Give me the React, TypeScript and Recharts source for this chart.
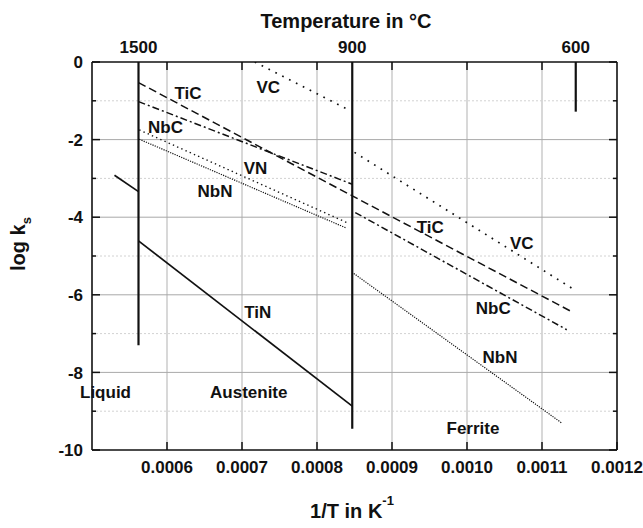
import React from "react";
import { LineChart, Line, XAxis, YAxis, CartesianGrid, ReferenceDot } from "recharts";

const FONT = "'Liberation Sans', Arial, Helvetica, sans-serif";
const INK = "#111";

// axes
const xTicks = [0.0006, 0.0007, 0.0008, 0.0009, 0.001, 0.0011, 0.0012];
const gridX = [0.0006, 0.0007, 0.0008, 0.0009, 0.001, 0.0011];
const yTicks = [0, -1, -2, -3, -4, -5, -6, -7, -8, -9, -10];
const majorY = [-2, -4, -6, -8];
const minorY = [-1, -3, -5, -7, -9];

// temperature markers on the top axis (1/T of 1500, 900, 600 °C)
const tempX = [0.000562, 0.000847, 0.001145];
const tempLabels = ["1500", "900", "600"];
const tempLineLow = [-7.3, -9.45, -1.28];

// solubility lines, log ks vs 1/T
const liquidX = [0.00053, 0.000562];
const liquidY = [-2.92, -3.34];
const tinX = [0.000562, 0.000847];
const tinY = [-4.61, -8.87];
const ticX = [0.000562, 0.000847, 0.001141];
const ticY = [-0.53, -3.45, -6.45];
const nbcAusX = [0.000562, 0.000847];
const nbcAusY = [-1.02, -3.15];
const nbcFerX = [0.000851, 0.001133];
const nbcFerY = [-3.88, -6.9];
const vcAusX = [0.000717, 0.000838];
const vcAusY = [0, -1.19];
const vcFerX = [0.00085, 0.001144];
const vcFerY = [-2.33, -5.88];
const vnX = [0.000563, 0.00084];
const vnY = [-1.75, -4.14];
const nbnAusX = [0.000563, 0.000838];
const nbnAusY = [-1.99, -4.27];
const nbnFerX = [0.000849, 0.001126];
const nbnFerY = [-5.45, -9.3];

// in-plot annotations
const noteText = ["TiC", "VC", "NbC", "VN", "NbN", "TiC", "VC", "NbC", "NbN", "Ferrite", "TiN", "Liquid", "Austenite"];
const noteX = [0.000628, 0.000735, 0.000598, 0.000718, 0.000664, 0.000951, 0.001073, 0.001035, 0.001044, 0.001008, 0.000721, 0.000518, 0.000709];
const noteY = [-0.79, -0.64, -1.68, -2.74, -3.32, -4.24, -4.67, -6.35, -7.6, -9.43, -6.44, -8.5, -8.51];

const pts = (xs: number[], ys: number[]) => xs.map((x, i) => ({ x, y: ys[i] }));

const DASH = "8 4";
const DASHDOT = "7 3 2 3";

const series = [
  { key: "liquid", d: pts(liquidX, liquidY), w: 1.7, dash: undefined },
  { key: "tin", d: pts(tinX, tinY), w: 1.7, dash: undefined },
  { key: "tic", d: pts(ticX, ticY), w: 1.5, dash: DASH },
  { key: "nbcAus", d: pts(nbcAusX, nbcAusY), w: 1.5, dash: DASHDOT },
  { key: "nbcFer", d: pts(nbcFerX, nbcFerY), w: 1.5, dash: DASHDOT },
  { key: "vcAus", d: pts(vcAusX, vcAusY), w: 1.7, dash: "1.7 6" },
  { key: "vcFer", d: pts(vcFerX, vcFerY), w: 1.7, dash: "1.7 6" },
  { key: "vn", d: pts(vnX, vnY), w: 1.4, dash: "1.4 3.2" },
  { key: "nbnAus", d: pts(nbnAusX, nbnAusY), w: 1.2, dash: "1.2 1.2" },
  { key: "nbnFer", d: pts(nbnFerX, nbnFerY), w: 1.2, dash: "1.2 1.2" },
  ...tempX.map((x, i) => ({ key: "T" + tempLabels[i], d: pts([x, x], [0, tempLineLow[i]]), w: 2.2, dash: undefined })),
];

const txt = { fontFamily: FONT, fontWeight: 700, fill: INK } as const;

const BottomTick = (p: any) => {
  const { x, y, payload } = p;
  return (
    <g>
      <line x1={x} x2={x} y1={y} y2={y - 8} stroke={INK} strokeWidth={1.5} />
      <text x={x} y={y + 23} textAnchor="middle" fontSize={17} {...txt}>
        {Number(payload.value).toFixed(4)}
      </text>
    </g>
  );
};

const TopTick = (p: any) => {
  const { x, y, payload } = p;
  const i = tempX.indexOf(payload.value);
  if (i >= 0) {
    return (
      <text x={x} y={y - 9} textAnchor="middle" fontSize={17} {...txt}>
        {tempLabels[i]}
      </text>
    );
  }
  return <line x1={x} x2={x} y1={y} y2={y + 8} stroke={INK} strokeWidth={1.5} />;
};

const LeftTick = (p: any) => {
  const { x, y, payload } = p;
  const v = payload.value as number;
  const major = v % 2 === 0;
  return (
    <g>
      <line x1={x} x2={x + (major ? 8 : 4)} y1={y} y2={y} stroke={INK} strokeWidth={1.5} />
      {major && (
        <text x={x - 9} y={y} dy="0.36em" textAnchor="end" fontSize={17} {...txt}>
          {String(v)}
        </text>
      )}
    </g>
  );
};

const RightTick = (p: any) => {
  const { x, y, payload } = p;
  const major = (payload.value as number) % 2 === 0;
  return <line x1={x} x2={x - (major ? 8 : 4)} y1={y} y2={y} stroke={INK} strokeWidth={1.5} />;
};

const TopTitle = () => (
  <text x={346} y={28} textAnchor="middle" fontSize={20} {...txt}>
    Temperature in °C
  </text>
);

const BottomTitle = () => (
  <text x={352} y={518} textAnchor="middle" fontSize={20} {...txt}>
    1/T in K<tspan dy={-13} fontSize={13}>-1</tspan>
  </text>
);

const LeftTitle = () => (
  <text x={25} y={244} transform="rotate(-90 25 244)" textAnchor="middle" fontSize={20} {...txt}>
    log k<tspan dy={6} fontSize={13}>s</tspan>
  </text>
);

export default function App() {
  return (
    <div style={{ position: "absolute", left: 0, top: 0, width: 643, height: 528, background: "#fff" }}>
      <LineChart width={643} height={528} margin={{ top: 32, right: 25, bottom: 28, left: 30 }}>
        <CartesianGrid xAxisId="b" yAxisId="l" horizontal={false} verticalValues={gridX} stroke="#cbcbcb" strokeWidth={1.5} />
        <CartesianGrid xAxisId="b" yAxisId="l" vertical={false} horizontalValues={majorY} stroke="#a9a9a9" />
        <CartesianGrid xAxisId="b" yAxisId="l" vertical={false} horizontalValues={minorY} stroke="#d2d2d2" strokeDasharray="2 2" />
        <XAxis
          xAxisId="b"
          dataKey="x"
          type="number"
          domain={[0.0005, 0.0012]}
          allowDataOverflow
          ticks={xTicks}
          interval={0}
          height={50}
          tickSize={0}
          tickMargin={0}
          tickLine={false}
          axisLine={{ stroke: INK, strokeWidth: 1.6 }}
          tick={BottomTick}
          label={<BottomTitle />}
        />
        <XAxis
          xAxisId="t"
          orientation="top"
          dataKey="x"
          type="number"
          domain={[0.0005, 0.0012]}
          allowDataOverflow
          ticks={[...gridX, ...tempX]}
          interval={0}
          height={30}
          tickSize={0}
          tickMargin={0}
          tickLine={false}
          axisLine={{ stroke: INK, strokeWidth: 1.6 }}
          tick={TopTick}
          label={<TopTitle />}
        />
        <YAxis
          yAxisId="l"
          type="number"
          domain={[-10, 0]}
          allowDataOverflow
          ticks={yTicks}
          interval={0}
          width={62}
          tickSize={0}
          tickMargin={0}
          tickLine={false}
          axisLine={{ stroke: INK, strokeWidth: 1.6 }}
          tick={LeftTick}
          label={<LeftTitle />}
        />
        <YAxis
          yAxisId="r"
          orientation="right"
          type="number"
          domain={[-10, 0]}
          allowDataOverflow
          ticks={yTicks}
          interval={0}
          width={1}
          tickSize={0}
          tickMargin={0}
          tickLine={false}
          axisLine={{ stroke: INK, strokeWidth: 1.6 }}
          tick={RightTick}
        />
        {series.map((s) => (
          <Line
            key={s.key}
            xAxisId="b"
            yAxisId="l"
            data={s.d}
            dataKey="y"
            type="linear"
            stroke={INK}
            strokeWidth={s.w}
            strokeDasharray={s.dash}
            dot={false}
            activeDot={false}
            isAnimationActive={false}
          />
        ))}
        {noteText.map((t, i) => (
          <ReferenceDot
            key={"n" + i}
            xAxisId="b"
            yAxisId="l"
            x={noteX[i]}
            y={noteY[i]}
            r={0}
            fill="none"
            stroke="none"
            label={{ value: t, position: "center", fontSize: 17, fontWeight: 700, fill: INK, fontFamily: FONT }}
          />
        ))}
      </LineChart>
    </div>
  );
}
